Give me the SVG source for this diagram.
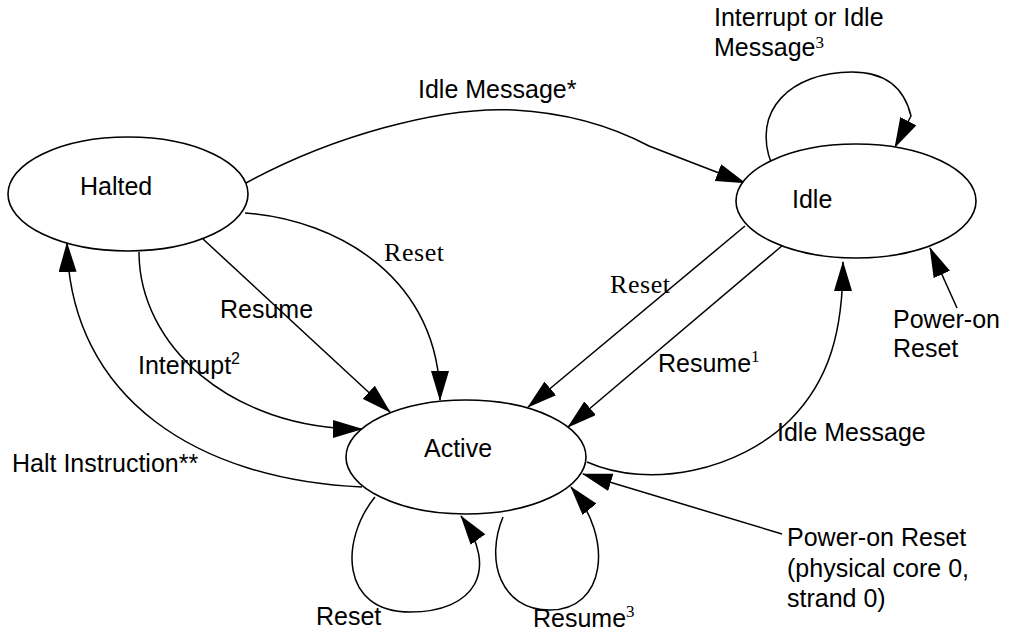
<svg xmlns="http://www.w3.org/2000/svg" width="1010" height="634" viewBox="0 0 1010 634">
<style>
.node{fill:#fff;stroke:#000;stroke-width:1.6}
.edge{fill:none;stroke:#000;stroke-width:1.5;marker-end:url(#ah)}
text{font-family:"Liberation Sans",Arial,sans-serif;font-size:25px;fill:#000}
.serif{font-family:"Liberation Serif","Times New Roman",serif;font-size:26px}
.sup{font-size:16px}
.supserif{font-family:"Liberation Serif","Times New Roman",serif;font-size:17px}
</style>
<defs>
<marker id="ah" markerUnits="userSpaceOnUse" markerWidth="30" markerHeight="18" refX="29" refY="9" orient="auto">
<path d="M0,0 L30,9 L0,18 z" fill="#000"/>
</marker>
</defs>
<rect width="1010" height="634" fill="#fff"/>
<g id="connectors">
<path class="edge" d="M246,183 C330,137 440,106 514,110 C570,113 615,128 649,146 L745,183"/>
<path class="edge" d="M772,165 C750,110 792,72 852,72 C892,72 906,95 911,116 L895,147"/>
<path class="edge" d="M957,308 L930,248"/>
<path class="edge" d="M203,239 L390,412"/>
<path class="edge" d="M139,252 C139,345 230,429 362,429"/>
<path class="edge" d="M362,487 C200,480 70,400 67,243"/>
<path class="edge" d="M245,213 C340,220 440,280 440,400"/>
<path class="edge" d="M745,226 L528,407"/>
<path class="edge" d="M783,245 L568,427"/>
<path class="edge" d="M587,462 C650,490 740,470 790,420 C830,380 843,330 843,262"/>
<path class="edge" d="M782,534 L583,474"/>
<path class="edge" d="M375,497 C340,540 340,612 410,612 C475,612 500,570 461,516"/>
<path class="edge" d="M503,517 C485,560 500,610 550,610 C605,610 615,540 571,487"/>
</g>
<g id="halted">
<ellipse class="node" cx="128" cy="194" rx="120" ry="57"/>
<text x="80" y="195">Halted</text>
</g>
<g id="idle">
<ellipse class="node" cx="856" cy="201" rx="120" ry="57"/>
<text x="792" y="208">Idle</text>
</g>
<g id="active">
<ellipse class="node" cx="466" cy="457" rx="120" ry="57"/>
<text x="424" y="457">Active</text>
</g>
<g id="labels">
<text x="714" y="26">Interrupt or Idle</text>
<text x="714" y="56">Message<tspan class="supserif" dy="-8">3</tspan></text>
<text x="418" y="98">Idle Message*</text>
<text class="serif" x="384" y="261" textLength="60">Reset</text>
<text x="220" y="318">Resume</text>
<text x="138" y="374">Interrupt<tspan class="sup" dy="-10">2</tspan></text>
<text x="12" y="472">Halt Instruction**</text>
<text class="serif" x="610" y="293" textLength="60">Reset</text>
<text x="658" y="372">Resume<tspan class="supserif" dy="-10">1</tspan></text>
<text x="777" y="441">Idle Message</text>
<text x="893" y="328">Power-on</text>
<text x="893" y="357">Reset</text>
<text x="787" y="546">Power-on Reset</text>
<text x="787" y="577">(physical core 0,</text>
<text x="787" y="607">strand 0)</text>
<text x="316" y="625">Reset</text>
<text x="533" y="627">Resume<tspan class="supserif" dy="-10">3</tspan></text>
</g>
</svg>
